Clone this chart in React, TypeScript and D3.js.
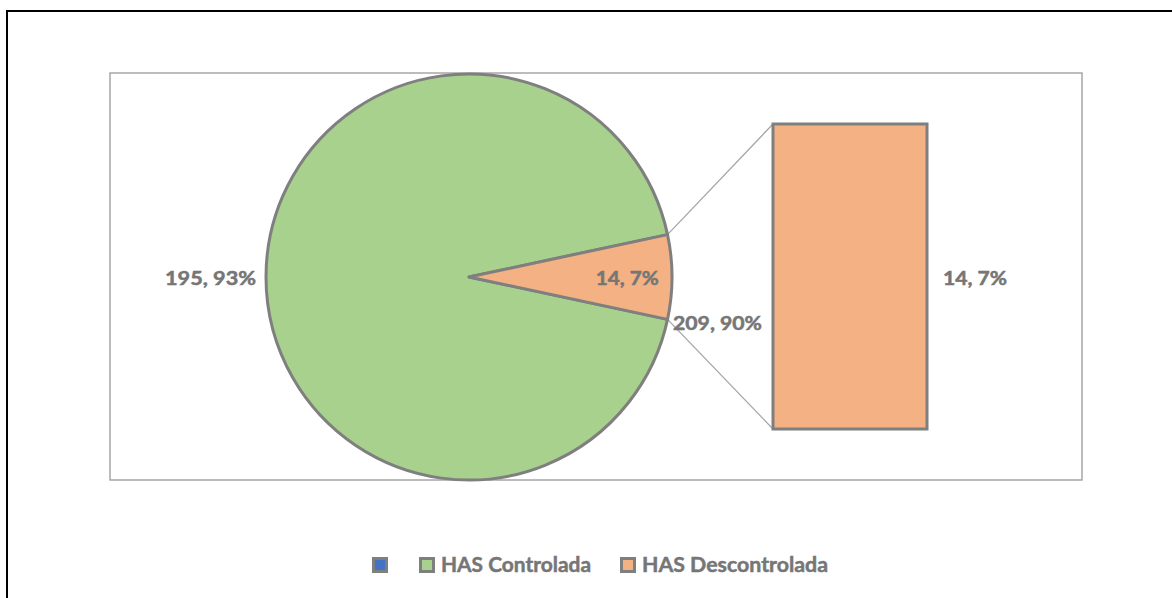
import React from "react";
import * as d3 from "d3";

// Blood-pressure control split, drawn as a pie with a secondary bar
const categories = ["HAS Controlada", "HAS Descontrolada"];
const values = [195, 14];
const percentLabels = ["93%", "7%"];
const otherLabel = "209, 90%";
const colors = ["#a9d18e", "#f4b183"];
const otherColor = "#4472c4";

const W = 1172;
const H = 598;
const stroke = "#7f7f7f";
const textColor = "#767676";
const font = "Lato, 'Open Sans', sans-serif";

export default function App() {
  const cx = 469;
  const cy = 277;
  const r = 203;

  const total = d3.sum(values);
  const smallAngle = (values[1] / total) * 2 * Math.PI;
  const start = Math.PI / 2 + smallAngle / 2;

  const pie = d3
    .pie<number>()
    .sort(null)
    .value((d) => d)
    .startAngle(start)
    .endAngle(start + 2 * Math.PI);
  const arcs = pie(values);
  const arcGen = d3.arc<d3.PieArcDatum<number>>().innerRadius(0).outerRadius(r);

  // secondary bar holds the small slice
  const barX0 = 773;
  const barW = 154;
  const y = d3.scaleLinear().domain([0, values[1]]).range([429, 124]);

  const pt = (a: number) => [cx + r * Math.sin(a), cy - r * Math.cos(a)];
  const small = arcs[1];
  const [ux, uy] = pt(small.startAngle);
  const [lx, ly] = pt(small.endAngle);

  const dataLabel = (v: number, p: string) => `${v}, ${p}`;
  const [sCx] = d3
    .arc<d3.PieArcDatum<number>>()
    .innerRadius(r * 0.55)
    .outerRadius(r * 0.95)
    .centroid(small);

  const legendItems = [
    { color: otherColor, label: "", x: 372 },
    { color: colors[0], label: categories[0], x: 419 },
    { color: colors[1], label: categories[1], x: 620 },
  ];
  const legendWidths = [0, 150, 186];

  return (
    <svg
      width={W}
      height={H}
      style={{ position: "absolute", left: 0, top: 0, background: "#fff" }}
      fontFamily={font}
    >
      <rect x={7} y={11} width={W + 20} height={H + 20} fill="#fff" stroke="#000" strokeWidth={2} />
      <rect x={110} y={73} width={972} height={407} fill="#fff" stroke="#a6a6a6" strokeWidth={1.5} />

      {/* connectors from the small slice to the bar */}
      <line x1={ux} y1={uy} x2={barX0} y2={y(values[1])} stroke="#a6a6a6" strokeWidth={1.3} />
      <line x1={lx} y1={ly} x2={barX0} y2={y(0)} stroke="#a6a6a6" strokeWidth={1.3} />

      <g transform={`translate(${cx},${cy})`}>
        {arcs.map((a, i) => (
          <path key={i} d={arcGen(a) || ""} fill={colors[i]} stroke={stroke} strokeWidth={3} strokeLinejoin="round" />
        ))}
      </g>

      <rect
        x={barX0}
        y={y(values[1])}
        width={barW}
        height={y(0) - y(values[1])}
        fill={colors[1]}
        stroke={stroke}
        strokeWidth={3}
      />

      <g fill={textColor} stroke={textColor} strokeWidth={0.5} fontWeight={700} fontSize={18}>
        <text x={256} y={285} textAnchor="end" textLength={91} lengthAdjust="spacingAndGlyphs">
          {dataLabel(values[0], percentLabels[0])}
        </text>
        <text x={cx + sCx + 6} y={285} textAnchor="middle" textLength={63} lengthAdjust="spacingAndGlyphs">
          {dataLabel(values[1], percentLabels[1])}
        </text>
        <text x={673} y={330} textLength={89} lengthAdjust="spacingAndGlyphs">
          {otherLabel}
        </text>
        <text x={943} y={285} textLength={64} lengthAdjust="spacingAndGlyphs">
          {dataLabel(values[1], percentLabels[1])}
        </text>
      </g>

      <g>
        {legendItems.map((it, i) => (
          <g key={i}>
            <rect x={it.x + 1.5} y={558.5} width={13} height={13} fill={it.color} stroke={stroke} strokeWidth={3} />
            {it.label && (
              <text
                x={it.x + 22}
                y={572}
                fill={textColor}
                stroke={textColor}
                strokeWidth={0.5}
                fontWeight={700}
                fontSize={21}
                textLength={legendWidths[i]}
                lengthAdjust="spacingAndGlyphs"
              >
                {it.label}
              </text>
            )}
          </g>
        ))}
      </g>
    </svg>
  );
}
